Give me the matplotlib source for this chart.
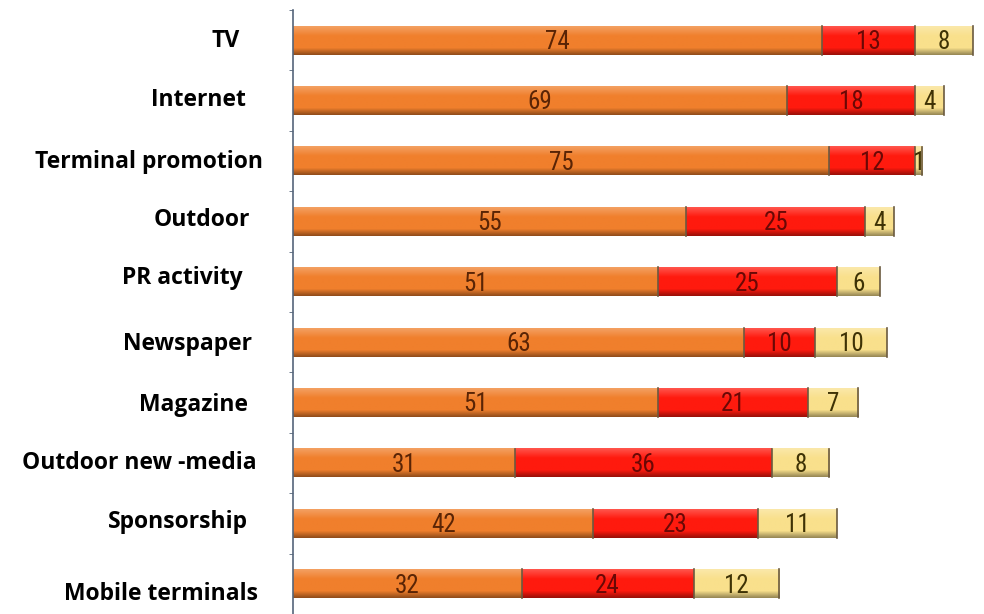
import numpy as np
import matplotlib.pyplot as plt
import matplotlib.colors as mcolors
from matplotlib import font_manager

# categories (top to bottom) and the three stacked series
categories = ["TV", "Internet", "Terminal promotion", "Outdoor", "PR activity",
              "Newspaper", "Magazine", "Outdoor new -media", "Sponsorship",
              "Mobile terminals"]
series_a = [74, 69, 75, 55, 51, 63, 51, 31, 42, 32]
series_b = [13, 18, 12, 25, 25, 10, 21, 36, 23, 24]
series_c = [8, 4, 1, 4, 6, 10, 7, 8, 11, 12]

# label placement in figure pixels (layout only): right edge, vertical nudge
label_right_px = [240, 246, 263, 250, 243, 252, 248, 257, 248, 258]
label_dy_px = [1, -1, 1, -1, -4, 2, 2, 0, -1, 10]

colors = ["#F07F2C", "#FF1A0E", "#F9E08C"]
text_colors = ["#5A2405", "#6A0805", "#3E3205"]

installed = {f.name for f in font_manager.fontManager.ttflist}
num_font = "Liberation Sans"
for cand in ["Liberation Sans Narrow", "DejaVu Sans Condensed", "Roboto Condensed"]:
    if cand in installed:
        num_font = cand
        break


def shade(color, f):
    r, g, b = mcolors.to_rgb(color)
    if f >= 1:
        return tuple(c + (1 - c) * (f - 1) for c in (r, g, b))
    return tuple(c * f for c in (r, g, b))


def gradient_img(color):
    fs = np.concatenate([np.linspace(1.25, 1.0, 8), np.ones(8), np.linspace(1.0, 0.62, 6)])
    return np.array([[shade(color, f)] for f in fs])


W, H = 984, 614
SPACING = 61.5  # pixels between bar centres
fig = plt.figure(figsize=(W / 100, H / 100), dpi=100)
ax = fig.add_axes([293 / W, 0.0, 1 - 293 / W, 1 - 10 / H])

y = np.arange(len(categories))
left = np.zeros(len(categories))
for vals, c, tc in zip([series_a, series_b, series_c], colors, text_colors):
    vals = np.array(vals, dtype=float)
    bars = ax.barh(y, vals, left=left, height=0.48, color=c, linewidth=0)
    img = gradient_img(c)
    for b, v in zip(bars, vals):
        x0, x1 = b.get_x(), b.get_x() + b.get_width()
        y0, y1 = b.get_y(), b.get_y() + b.get_height()
        ax.imshow(img, extent=(x0, x1, y1, y0), aspect="auto", zorder=2,
                  interpolation="bilinear")
        ax.plot([x1, x1], [y0, y1], color="#6B5A40", lw=1.2, zorder=3)
        ax.text((x0 + x1) / 2, (y0 + y1) / 2 + 0.03, f"{int(v)}", ha="center",
                va="center", fontsize=18, color=tc, zorder=4,
                family=[num_font, "DejaVu Sans"])
    left += vals

ax.set_xlim(0, 96.6)
ax.set_ylim(9.33, -0.488)

for s in ["top", "right", "bottom"]:
    ax.spines[s].set_visible(False)
ax.spines["left"].set_color("#55657A")
ax.spines["left"].set_linewidth(1.2)
ax.set_xticks([])

ax.set_yticks(y)
ax.set_yticklabels([])
ax.tick_params(axis="y", which="major", length=0)
ax.set_yticks(np.arange(-0.5, len(categories), 1.0), minor=True)
ax.tick_params(axis="y", which="minor", length=3, color="#55657A", direction="out")

for yi, name, xr, dy in zip(y, categories, label_right_px, label_dy_px):
    x_axes = (xr - 293) / (W - 293)
    ax.text(x_axes, yi + dy / SPACING, name, transform=ax.get_yaxis_transform(),
            ha="right", va="center", fontsize=16.5, fontweight="bold",
            family=["Open Sans", "DejaVu Sans"])

fig.savefig("out.png", dpi=100)
